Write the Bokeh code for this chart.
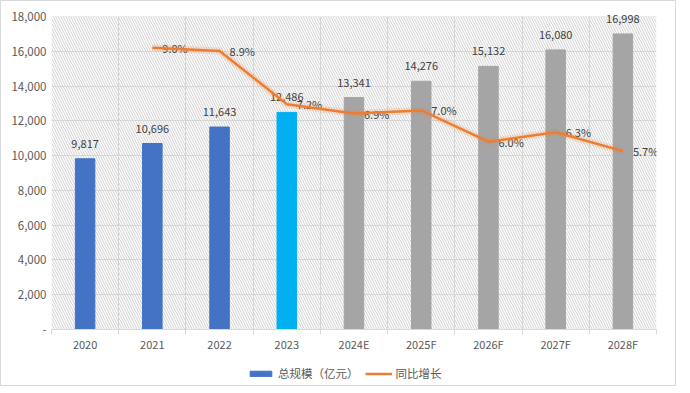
import numpy as np
from bokeh.plotting import figure
from bokeh.layouts import column
from bokeh.models import (ColumnDataSource, Range1d, FixedTicker, NumeralTickFormatter,
                          Legend, LegendItem, BoxAnnotation)
from bokeh.core.properties import value
from bokeh.embed import file_html
from bokeh.resources import INLINE

categories = ["2020", "2021", "2022", "2023", "2024E", "2025F", "2026F", "2027F", "2028F"]
scale_values = [9817, 10696, 11643, 12486, 13341, 14276, 15132, 16080, 16998]
bar_colors = ["#4472C4", "#4472C4", "#4472C4", "#00B0F0", "#A5A5A5", "#A5A5A5", "#A5A5A5", "#A5A5A5", "#A5A5A5"]
growth_categories = ["2021", "2022", "2023", "2024E", "2025F", "2026F", "2027F", "2028F"]
growth_values = [9.0, 8.9, 7.2, 6.9, 7.0, 6.0, 6.3, 5.7]
y_ticks = [0, 2000, 4000, 6000, 8000, 10000, 12000, 14000, 16000, 18000]
series_names = ["总规模（亿元）", "同比增长"]

FONT = "Noto Sans CJK SC"
BAR_BLUE = "#4472C4"
LINE_ORANGE = "#ED7D31"
Y_MAX = y_ticks[-1]
Y_VIEW = Y_MAX * 324 / 313      # headroom so the top value label is not clipped
PCT_MAX = 10 * 324 / 313

xpos = np.arange(len(categories)) + 0.5
idx = {c: i for i, c in enumerate(categories)}
gx = np.array([idx[c] for c in growth_categories]) + 0.5

bar_src = ColumnDataSource(dict(x=xpos, top=scale_values, color=bar_colors,
                                label=[f"{v:,}" for v in scale_values]))
line_src = ColumnDataSource(dict(x=gx, y=growth_values,
                                 label=[f"{v:.1f}%" for v in growth_values]))

p = figure(width=674, height=362, output_backend="svg", toolbar_location=None,
           x_range=Range1d(0, len(categories)), y_range=Range1d(0, Y_VIEW),
           min_border_left=50, min_border_right=19, min_border_top=4, min_border_bottom=34)
p.extra_y_ranges = {"pct": Range1d(0, PCT_MAX)}

p.outline_line_color = None
p.background_fill_color = "white"

# grids
p.xgrid.ticker = FixedTicker(ticks=list(range(len(categories) + 1)))
p.xgrid.grid_line_color = "#D9D9D9"
p.ygrid.ticker = FixedTicker(ticks=y_ticks)
p.ygrid.grid_line_color = "#D9D9D9"

# hatched plot area and white headroom strip above it
p.add_layout(BoxAnnotation(top=Y_MAX, fill_color="white", fill_alpha=0, hatch_pattern="\\",
                           hatch_color="#D0D0D0", hatch_scale=5, hatch_weight=1,
                           line_color=None, level="underlay"))
p.add_layout(BoxAnnotation(bottom=Y_MAX + 1, fill_color="white", fill_alpha=1,
                           line_color=None, level="underlay"))

# y axis
p.yaxis.ticker = FixedTicker(ticks=y_ticks)
p.yaxis.formatter = NumeralTickFormatter(format="0,0")
p.yaxis.major_label_overrides = {0: "-"}
p.yaxis.axis_line_color = None
p.yaxis.major_tick_line_color = None
p.yaxis.major_tick_out = 0
p.yaxis.major_tick_in = 0
p.yaxis.minor_tick_line_color = None
p.yaxis.minor_tick_out = 0
p.yaxis.major_label_standoff = 5
p.yaxis.major_label_text_font = FONT
p.yaxis.major_label_text_font_size = "11.5px"
p.yaxis.major_label_text_color = "#595959"

# x axis
p.xaxis.ticker = FixedTicker(ticks=list(xpos), minor_ticks=list(range(len(categories) + 1)))
p.xaxis.major_label_overrides = {float(x): c for x, c in zip(xpos, categories)}
p.xaxis.axis_line_color = "#D9D9D9"
p.xaxis.major_tick_line_color = None
p.xaxis.major_tick_out = 0
p.xaxis.major_tick_in = 0
p.xaxis.minor_tick_line_color = "#D9D9D9"
p.xaxis.minor_tick_out = 5
p.xaxis.minor_tick_in = 0
p.xaxis.major_label_standoff = 1
p.xaxis.major_label_text_font = FONT
p.xaxis.major_label_text_font_size = "11px"
p.xaxis.major_label_text_color = "#595959"

p.vbar(x="x", top="top", width=0.29, bottom=0, color="color", source=bar_src)
p.text(x="x", y="top", text="label", source=bar_src, text_align="center",
       text_baseline="bottom", y_offset=-11, text_font=value(FONT),
       text_font_size="11px", text_color="#404040")

p.text(x="x", y="y", text="label", source=line_src, y_range_name="pct",
       text_align="left", text_baseline="middle", x_offset=10,
       text_font=value(FONT), text_font_size="11px", text_color="#404040")
p.line(x="x", y="y", source=line_src, y_range_name="pct", line_color=LINE_ORANGE,
       line_width=7, line_alpha=0.18)
p.line(x="x", y="y", source=line_src, y_range_name="pct", line_color=LINE_ORANGE,
       line_width=2.5, line_join="round")

# legend strip below the chart
lg = figure(width=674, height=22, output_backend="svg", toolbar_location=None,
            x_range=Range1d(0, 1), y_range=Range1d(0, 1),
            x_axis_type=None, y_axis_type=None, min_border=0)
lg.outline_line_color = None
lg.xgrid.visible = False
lg.ygrid.visible = False
offscreen = ColumnDataSource(dict(x=[-5, -4], y=[-5, -5], top=[-4, -4]))
r_bar = lg.vbar(x="x", top="top", bottom=-5, width=0.1, color=BAR_BLUE, source=offscreen)
r_line = lg.line(x="x", y="y", line_color=LINE_ORANGE, line_width=2.5, source=offscreen)
legend = Legend(items=[LegendItem(label=series_names[0], renderers=[r_bar]),
                       LegendItem(label=series_names[1], renderers=[r_line])],
                orientation="horizontal", location=(196, 4),
                glyph_width=27, glyph_height=7, label_standoff=4, spacing=6,
                padding=0, margin=0, border_line_color=None, background_fill_alpha=0,
                label_text_font=FONT, label_text_font_size="11.5px",
                label_text_color="#595959")
lg.add_layout(legend, "center")

layout = column(p, lg, spacing=0, styles={"border": "1px solid #D9D9D9"})
open("out.html", "w").write(file_html(layout, INLINE))
